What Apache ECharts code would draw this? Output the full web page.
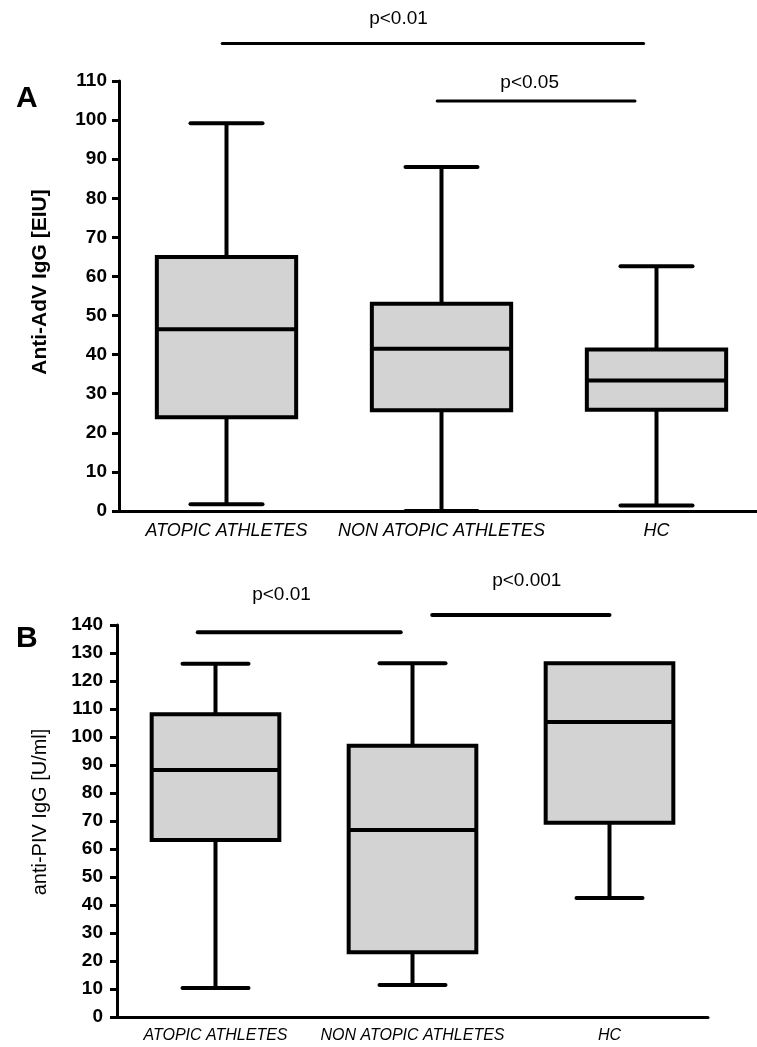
<!DOCTYPE html>
<html><head><meta charset="utf-8">
<script src="https://cdn.jsdelivr.net/npm/echarts@6/dist/echarts.min.js"></script>
<style>html,body{margin:0;padding:0;background:#fff}#c{width:757px;height:1047px}</style>
</head><body><div id="c"></div>
<script>
// ---------------- data ----------------
const categories = ['ATOPIC ATHLETES', 'NON ATOPIC ATHLETES', 'HC'];
// each row: [min, Q1, median, Q3, max]
const advStats = [
  [1.7, 24.0, 46.5, 65.0, 99.2],
  [0.0, 25.8, 41.5, 53.0, 88.0],
  [1.4, 25.9, 33.4, 41.3, 62.6]
];
const pivStats = [
  [10.4, 63.2, 88.2, 108.1, 126.2],
  [11.4, 23.1, 66.8, 96.9, 126.3],
  [42.5, 69.4, 105.4, 126.3, 126.3]
];
// significance bars: from/to in category units, value on y scale
const advSig = [
  { from: -0.02, to: 1.94, value: 119.6, label: 'p<0.01', labelAt: 0.80, labelValue: 125.8 },
  { from: 0.98, to: 1.90, value: 104.9, label: 'p<0.05', labelAt: 1.41, labelValue: 109.6 }
];
const pivSig = [
  { from: -0.09, to: 0.94, value: 137.4, label: 'p<0.01', labelAt: 0.335, labelValue: 150.7 },
  { from: 1.10, to: 2.00, value: 143.6, label: 'p<0.001', labelAt: 1.58, labelValue: 155.7 }
];
const advAxis = { min: 0, max: 110, interval: 10, title: 'Anti-AdV IgG [EIU]', panel: 'A' };
const pivAxis = { min: 0, max: 140, interval: 10, title: 'anti-PIV IgG [U/ml]', panel: 'B' };

// ---------------- rendering ----------------
const FONT = '"Liberation Sans", Arial, sans-serif';
const BOX_FRAC = 0.648, CAP_FRAC = 0.335;

function boxRender(params, api) {
  const idx = api.value(0);
  const cx = api.coord([idx, 0])[0];
  const band = api.size([1, 0])[0];
  const y = k => api.coord([idx, api.value(k)])[1];
  const yMin = y(1), yQ1 = y(2), yMed = y(3), yQ3 = y(4), yMax = y(5);
  const hw = band * BOX_FRAC / 2, cw = band * CAP_FRAC / 2;
  const ls = { stroke: '#000', lineWidth: 4 };
  const cap = { stroke: '#000', lineWidth: 4, lineCap: 'round' };
  const ch = [];
  if (yMax < yQ3 - 0.5) {
    ch.push({ type: 'line', shape: { x1: cx, y1: yMax, x2: cx, y2: yQ3 }, style: ls });
    ch.push({ type: 'line', shape: { x1: cx - cw, y1: yMax, x2: cx + cw, y2: yMax }, style: cap });
  }
  if (yMin > yQ1 + 0.5) {
    ch.push({ type: 'line', shape: { x1: cx, y1: yQ1, x2: cx, y2: yMin }, style: ls });
    ch.push({ type: 'line', shape: { x1: cx - cw, y1: yMin, x2: cx + cw, y2: yMin }, style: cap });
  }
  ch.push({ type: 'rect', shape: { x: cx - hw, y: yQ3, width: 2 * hw, height: yQ1 - yQ3 },
    style: { fill: '#d3d3d3', stroke: '#000', lineWidth: 4 } });
  ch.push({ type: 'line', shape: { x1: cx - hw, y1: yMed, x2: cx + hw, y2: yMed }, style: ls });
  return { type: 'group', children: ch };
}

function sigRender(params, api) {
  const x0 = api.coord([0, 0])[0];
  const band = api.size([1, 0])[0];
  const px = p => x0 + p * band;
  const yLine = api.coord([0, api.value(2)])[1];
  const yText = api.coord([0, api.value(4)])[1];
  return { type: 'group', children: [
    { type: 'line', shape: { x1: px(api.value(0)), y1: yLine, x2: px(api.value(1)), y2: yLine },
      style: { stroke: '#000', lineWidth: params.seriesIndex === 1 ? 3 : 4, lineCap: 'round' } },
    { type: 'text', x: px(api.value(3)), y: yText,
      style: { text: api.value(5), fill: '#000', font: '19px ' + FONT, align: 'center', verticalAlign: 'middle' } }
  ] };
}

const grids = [
  { left: 119, top: 81, width: 645, height: 430, outerBoundsMode: 'none' },
  { left: 117, top: 625, width: 591, height: 392, outerBoundsMode: 'none' }
];

function xAxisFor(gi, fs) {
  return {
    type: 'category', gridIndex: gi, data: categories,
    axisLine: { show: true, lineStyle: { color: '#000', width: 3 } },
    axisTick: { show: false },
    axisLabel: { interval: 0, color: '#000', fontStyle: 'italic', fontFamily: FONT, fontSize: fs, margin: 11 },
    splitLine: { show: false }
  };
}
function yAxisFor(gi, ax, margin) {
  return {
    type: 'value', gridIndex: gi, min: ax.min, max: ax.max, interval: ax.interval,
    axisLine: { show: true, lineStyle: { color: '#000', width: 3 } },
    axisTick: { show: true, length: 7, lineStyle: { color: '#000', width: 3 } },
    axisLabel: { color: '#000', fontWeight: 'bold', fontFamily: FONT, fontSize: 19, margin: margin },
    splitLine: { show: false }
  };
}

const boxData = stats => stats.map((s, i) => [i].concat(s));
const sigData = sig => sig.map(s => [s.from, s.to, s.value, s.labelAt, s.labelValue, s.label]);

const chart = echarts.init(document.getElementById('c'), null, { renderer: 'canvas' });
chart.setOption({
  animation: false,
  backgroundColor: '#fff',
  grid: grids,
  xAxis: [xAxisFor(0, 18), xAxisFor(1, 16)],
  yAxis: [yAxisFor(0, advAxis, 12), yAxisFor(1, pivAxis, 14)],
  series: [
    { type: 'custom', xAxisIndex: 0, yAxisIndex: 0, renderItem: boxRender, data: boxData(advStats),
      encode: { x: 0, y: [1, 2, 3, 4, 5] }, clip: false },
    { type: 'custom', xAxisIndex: 0, yAxisIndex: 0, renderItem: sigRender, data: sigData(advSig),
      encode: { x: 3, y: 2 }, clip: false, z: 5 },
    { type: 'custom', xAxisIndex: 1, yAxisIndex: 1, renderItem: boxRender, data: boxData(pivStats),
      encode: { x: 0, y: [1, 2, 3, 4, 5] }, clip: false },
    { type: 'custom', xAxisIndex: 1, yAxisIndex: 1, renderItem: sigRender, data: sigData(pivSig),
      encode: { x: 3, y: 2 }, clip: false, z: 5 }
  ],
  graphic: [
    { type: 'text', x: 16, y: 84, style: { text: advAxis.panel, font: 'bold 30px ' + FONT, fill: '#000' } },
    { type: 'text', x: 16, y: 624, style: { text: pivAxis.panel, font: 'bold 30px ' + FONT, fill: '#000' } },
    { type: 'text', x: 40, y: 282, rotation: Math.PI / 2,
      style: { text: advAxis.title, font: 'bold 21px ' + FONT, fill: '#000', align: 'center', verticalAlign: 'middle' } },
    { type: 'text', x: 40, y: 812, rotation: Math.PI / 2,
      style: { text: pivAxis.title, font: '20px ' + FONT, fill: '#000', align: 'center', verticalAlign: 'middle' } }
  ]
});
</script>
</body></html>
